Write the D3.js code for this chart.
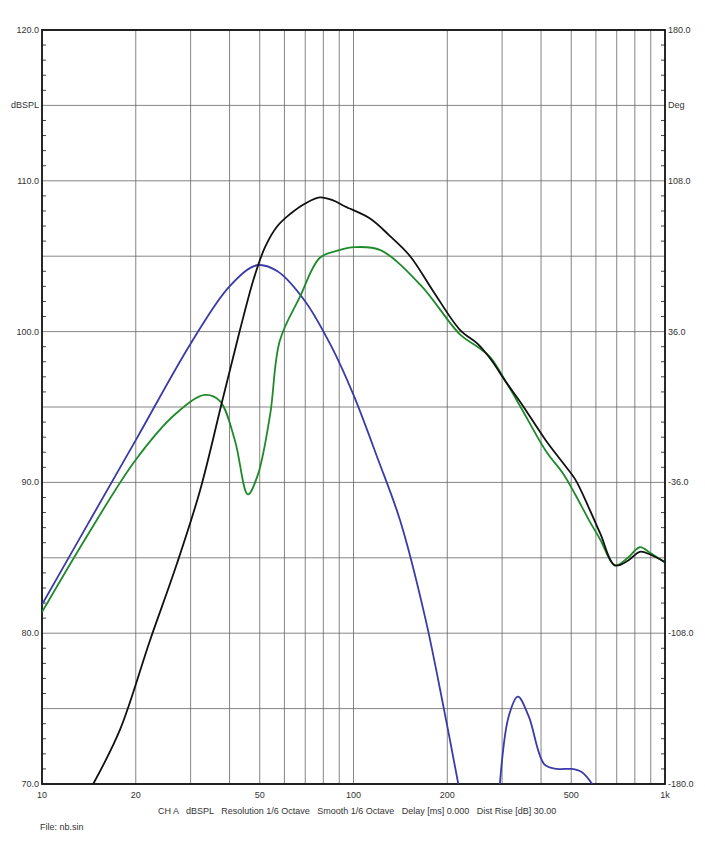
<!DOCTYPE html>
<html><head><meta charset="utf-8">
<script src="https://cdn.jsdelivr.net/npm/d3@7"></script>
<style>body{margin:0;background:#fff}text{font-family:Arial,"Liberation Sans",sans-serif;font-size:9px;fill:#333;white-space:pre}</style>
</head><body><svg id="c" width="705" height="843"></svg>
<script>
const blue = [[10,81.9],[14,87.2],[20,92.8],[30,99.2],[40,103.0],[49,104.4],[57,104.0],[70,102.0],[85,99.0],[100,95.8],[120,91.5],[141,87.5],[170,81],[195,75],[217,70]];
const blue2 = [[295,70],[315,74.5],[337,75.8],[365,74.5],[410,71.3],[450,71],[500,71],[540,70.8],[584,70]];
const black = [[14.6,70],[17.8,73.6],[22.2,79.5],[27,84.5],[32.2,89.5],[38,95.5],[43.2,100.1],[48,103.6],[52,105.6],[57,107],[62.6,107.8],[70,108.5],[78,108.9],[86,108.7],[94,108.3],[113,107.5],[130,106.4],[152,105],[180,102.7],[220,100.1],[250,99.2],[275,98.2],[310,96.6],[344,95.3],[414,92.8],[470,91.3],[515,90.2],[570,88.3],[620,86.6],[690,84.5],[760,84.8],[830,85.4],[900,85.2],[1000,84.7]];
const green = [[10,81.4],[14,86.5],[20,91.5],[26.7,94.5],[33.3,95.8],[37.2,95.4],[41.6,92.8],[45.8,89.2],[49.3,90.5],[54,94.5],[58,99.4],[67.3,102.3],[78,104.9],[90,105.4],[101,105.6],[122,105.4],[164,103.1],[220,99.8],[250,99],[275,98.3],[310,96.6],[344,95],[414,92.1],[470,90.6],[515,89.2],[570,87.5],[620,86.2],[690,84.5],[760,85],[830,85.7],[900,85.3],[1000,84.7]];
const dbTicks = [120,115,110,105,100,95,90,85,80,75,70];
const degLabels = [[120,"180.0"],[115,"Deg"],[110,"108.0"],[100,"36.0"],[90,"-36.0"],[80,"-108.0"],[70,"-180.0"]];
const freqLabels = [[10,"10"],[20,"20"],[50,"50"],[100,"100"],[200,"200"],[500,"500"],[1000,"1k"]];
const gridF = [20,30,40,50,60,70,80,90,100,200,300,400,500,600,700,800,900];

const svg = d3.select("#c");
const L=42,R=665,T=30,B=784;
const x = d3.scaleLog().domain([10,1000]).range([L,R]);
const y = d3.scaleLinear().domain([70,120]).range([B,T]);

svg.append("g").selectAll("line").data(gridF).join("line")
  .attr("x1",d=>x(d)).attr("x2",d=>x(d)).attr("y1",T).attr("y2",B)
  .attr("stroke","#666").attr("stroke-width",0.8);
svg.append("g").selectAll("line").data(dbTicks).join("line")
  .attr("x1",L).attr("x2",R).attr("y1",d=>y(d)).attr("y2",d=>y(d))
  .attr("stroke","#666").attr("stroke-width",0.8);
// minor ticks
const minor = d3.range(71,120).filter(d=>d%5);
svg.append("g").selectAll("line").data(minor).join("line")
  .attr("x1",L).attr("x2",L+4).attr("y1",d=>y(d)).attr("y2",d=>y(d)).attr("stroke","#444");
svg.append("g").selectAll("line").data(minor).join("line")
  .attr("x1",R-4).attr("x2",R).attr("y1",d=>y(d)).attr("y2",d=>y(d)).attr("stroke","#444");
svg.append("rect").attr("x",L).attr("y",T).attr("width",R-L).attr("height",B-T)
  .attr("fill","none").attr("stroke","#111").attr("stroke-width",1.8);

svg.append("g").selectAll("text").data(dbTicks.filter(d=>d%10==0||d==115)).join("text")
  .attr("x",L-3).attr("y",d=>y(d)+3).attr("text-anchor","end")
  .text(d=>d==115?"dBSPL":d.toFixed(1));
svg.append("g").selectAll("text").data(degLabels).join("text")
  .attr("x",R+3).attr("y",d=>y(d[0])+3).text(d=>d[1]);
svg.append("g").selectAll("text").data(freqLabels).join("text")
  .attr("x",d=>x(d[0])).attr("y",B+14).attr("text-anchor","middle").text(d=>d[1]);
svg.append("text").attr("x",158).attr("y",B+30)
  .text("CH A   dBSPL   Resolution 1/6 Octave   Smooth 1/6 Octave   Delay [ms] 0.000   Dist Rise [dB] 30.00");
svg.append("text").attr("x",40).attr("y",B+46).text("File: nb.sin");

const line = d3.line().x(d=>x(d[0])).y(d=>y(d[1])).curve(d3.curveCatmullRom.alpha(0.5));
svg.append("clipPath").attr("id","cp").append("rect").attr("x",L).attr("y",T).attr("width",R-L).attr("height",B-T);
const g = svg.append("g").attr("clip-path","url(#cp)");
[[blue,"#3a3aa8"],[blue2,"#3a3aa8"],[green,"#1f8a2a"],[black,"#111"]].forEach(([d,c])=>
  g.append("path").datum(d).attr("d",line).attr("fill","none").attr("stroke",c).attr("stroke-width",1.8));
</script></body></html>
